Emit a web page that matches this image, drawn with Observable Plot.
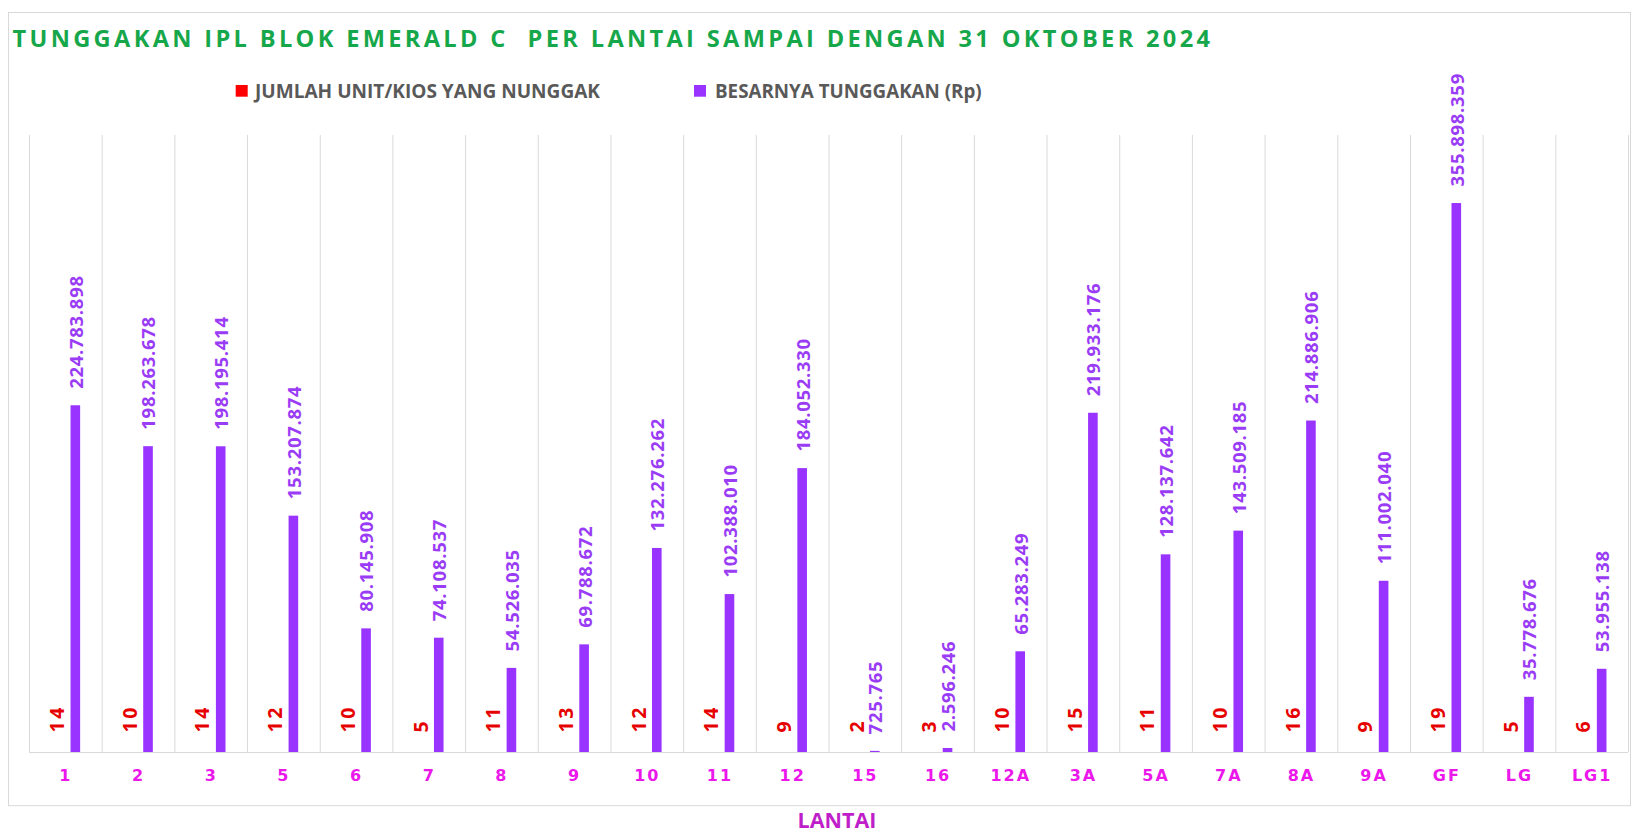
<!DOCTYPE html>
<html>
<head>
<meta charset="utf-8">
<script src="https://cdn.jsdelivr.net/npm/d3@7"></script>
<script src="https://cdn.jsdelivr.net/npm/@observablehq/plot@0.6"></script>
<style>
  html, body { margin: 0; padding: 0; background: #fff; overflow: hidden; }
  #wrap { position: relative; width: 1631px; height: 834px; }
  #wrap svg { position: absolute; left: 0; top: 0; }
  #overlay { pointer-events: none; }
</style>
</head>
<body>
<div id="wrap"></div>
<script>
// ---- data ----
const lantai = ["1","2","3","5","6","7","8","9","10","11","12","15","16","12A","3A","5A","7A","8A","9A","GF","LG","LG1"];
const jumlahUnit = [14,10,14,12,10,5,11,13,12,14,9,2,3,10,15,11,10,16,9,19,5,6];
const besarnya = [224783898,198263678,198195414,153207874,80145908,74108537,54526035,69788672,132276262,102388010,184052330,725765,2596246,65283249,219933176,128137642,143509185,214886906,111002040,355898359,35778676,53955138];
const titleText = "TUNGGAKAN IPL BLOK EMERALD C  PER LANTAI SAMPAI DENGAN 31 OKTOBER 2024";
const legendLabels = ["JUMLAH UNIT/KIOS YANG NUNGGAK", "BESARNYA TUNGGAKAN (Rp)"];
const axisTitle = "LANTAI";

const rows = lantai.map((l, i) => ({lantai: l, unit: jumlahUnit[i], rp: besarnya[i]}));
const idFmt = d3.formatLocale({decimal: ",", thousands: ".", grouping: [3], currency: ["Rp", ""]}).format(",d");

const W = 1631, H = 834;
const mL = 29, mR = 3, mT = 135, mB = 82;
const bw = (W - mL - mR) / lantai.length;

const C_RED = "#FF0000", C_PURPLE = "#9933FF", C_LABEL = "#9A3CF6", C_CAT = "#EB17EB", C_GRID = "#D9D9D9";
const valueFont = {fontFamily: "'Open Sans', sans-serif", fontWeight: "bold", fontSize: 18.5};

const chart = Plot.plot({
  width: W, height: H,
  marginLeft: mL, marginRight: mR, marginTop: mT, marginBottom: mB,
  style: {background: "transparent", overflow: "visible"},
  x: {domain: lantai, padding: 0, round: false, axis: null},
  y: {domain: [0, 400000000], axis: null},
  marks: [
    Plot.ruleX(lantai, {x: d => d, dx: -bw / 2, stroke: C_GRID, strokeWidth: 1}),
    Plot.ruleX([lantai[lantai.length - 1]], {x: d => d, dx: bw / 2, stroke: C_GRID, strokeWidth: 1}),
    Plot.barY(rows, {x: "lantai", y: "unit", fill: C_RED, insetLeft: bw / 2 - 13, insetRight: bw / 2 + 3}),
    Plot.barY(rows, {x: "lantai", y: "rp", fill: C_PURPLE, insetLeft: bw / 2 + 5.2, insetRight: bw / 2 - 14.8}),
    Plot.ruleY([0], {stroke: C_GRID, strokeWidth: 1.2}),
    Plot.text(rows, {x: "lantai", y: "rp", text: d => idFmt(d.rp), rotate: -90, textAnchor: "start",
      dx: 11, dy: -17, fill: C_LABEL, ...valueFont, className: "vlab"}),
    Plot.text(rows, {x: "lantai", y: "unit", text: d => String(d.unit), rotate: -90, textAnchor: "start",
      dx: -8, dy: -20, fill: "#E60000", ...valueFont, fontSize: 19.5, className: "ulab"}),
    Plot.axisX({tickSize: 0, tickPadding: 17, fontSize: 16, fontWeight: "bold", fontFamily: "'DejaVu Sans', sans-serif",
      fill: C_CAT, label: null})
  ]
});
chart.querySelectorAll(".vlab text").forEach(t => t.style.letterSpacing = "0.7px");
chart.querySelectorAll(".ulab text").forEach(t => t.style.letterSpacing = "2.5px");
chart.querySelectorAll("g[aria-label='x-axis tick label'] text").forEach(t => t.style.letterSpacing = "2px");

const wrap = document.getElementById("wrap");
wrap.appendChild(chart);

// overlay: border, title, legend, axis title
const ov = d3.select(wrap).append("svg").attr("id", "overlay").attr("width", W).attr("height", H);
ov.append("rect").attr("x", 8.5).attr("y", 12.5).attr("width", 1622).attr("height", 793.2)
  .attr("fill", "none").attr("stroke", C_GRID).attr("stroke-width", 1);
ov.append("text").attr("x", 12.5).attr("y", 47.3)
  .attr("font-family", "'Open Sans', sans-serif").attr("font-weight", "bold").attr("font-size", 23.6)
  .attr("fill", "#17A74B").attr("textLength", 1197.5).attr("lengthAdjust", "spacing")
  .style("white-space", "pre").text(titleText);

const legendItems = [
  {label: legendLabels[0], color: C_RED, sx: 235.7, tx: 255, tl: 345},
  {label: legendLabels[1], color: C_PURPLE, sx: 694, tx: 715, tl: 266.7}
];
legendItems.forEach(it => {
  ov.append("rect").attr("x", it.sx).attr("y", 85).attr("width", 12).attr("height", 11.7).attr("fill", it.color);
  ov.append("text").attr("x", it.tx).attr("y", 97.7)
    .attr("font-family", "'Open Sans', sans-serif").attr("font-weight", "bold").attr("font-size", 19)
    .attr("fill", "#595959").attr("textLength", it.tl).attr("lengthAdjust", "spacingAndGlyphs").text(it.label);
});
ov.append("text").attr("x", 837).attr("y", 827.5).attr("text-anchor", "middle")
  .attr("font-family", "'Open Sans', sans-serif").attr("font-weight", "bold").attr("font-size", 21.5)
  .attr("fill", "#BF1FC8").text(axisTitle);
</script>
</body>
</html>
